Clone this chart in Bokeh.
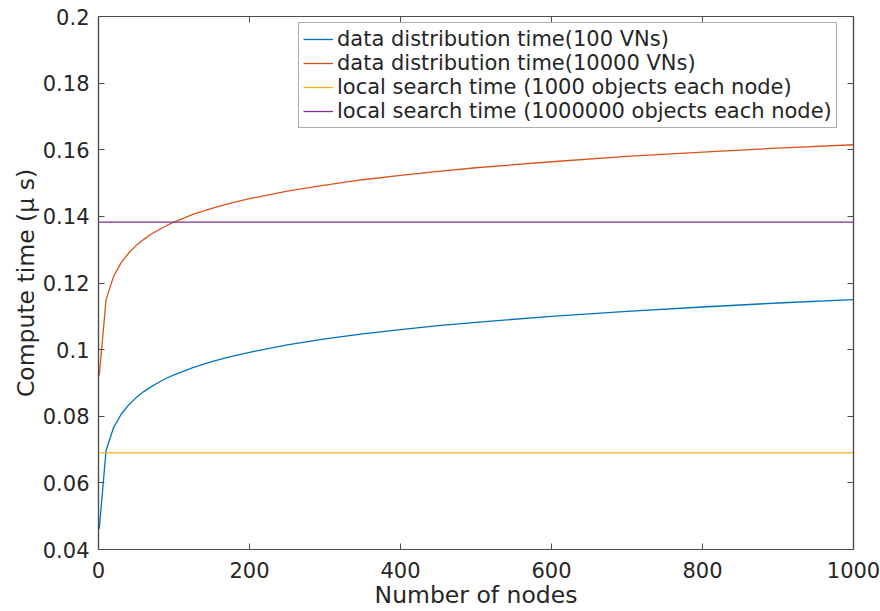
from bokeh.plotting import figure
from bokeh.models import (LinearAxis, FixedTicker, CustomJSTickFormatter, Legend, LegendItem, Range1d)
from bokeh.embed import file_html
from bokeh.resources import INLINE

nodes = [1, 10, 20, 30, 40, 50, 60, 70, 80, 90, 100, 125, 150, 175, 200, 250, 300,
         350, 400, 450, 500, 600, 700, 800, 900, 1000]
dist_100vn = [0.0462, 0.0697, 0.0766, 0.0806, 0.0834, 0.0856, 0.0874, 0.0889, 0.0902,
              0.0914, 0.0924, 0.0946, 0.0964, 0.0979, 0.0992, 0.1014, 0.1032, 0.1047,
              0.1060, 0.1072, 0.1082, 0.1100, 0.1115, 0.1128, 0.1140, 0.1150]
dist_10000vn = [0.0922, 0.1150, 0.1220, 0.1261, 0.1290, 0.1313, 0.1331, 0.1347, 0.1360,
                0.1372, 0.1383, 0.1406, 0.1424, 0.1440, 0.1453, 0.1476, 0.1494, 0.1510,
                0.1523, 0.1535, 0.1546, 0.1564, 0.1580, 0.1593, 0.1605, 0.1615]
search_nodes = [1, 1000]
search_1000 = [0.069, 0.069]
search_1000000 = [0.1383, 0.1383]

x_ticks = [0, 200, 400, 600, 800, 1000]
y_ticks = [0.04, 0.06, 0.08, 0.10, 0.12, 0.14, 0.16, 0.18, 0.20]

labels = ["data distribution time(100 VNs)",
          "data distribution time(10000 VNs)",
          "local search time (1000 objects each node)",
          "local search time (1000000 objects each node)"]
colors = ["#0072BD", "#D95319", "#EDB120", "#7E2F8E"]

FONT = "DejaVu Sans"
AX = "#4d4d4d"
TXT = "#262626"

p = figure(width=880, height=611, output_backend="svg", toolbar_location=None,
           x_range=Range1d(0, 1000), y_range=Range1d(0.04, 0.2),
           min_border_left=98, min_border_right=27, min_border_top=16, min_border_bottom=60)
p.grid.visible = False
p.outline_line_color = AX
p.outline_line_width = 1.2
p.background_fill_color = "white"

r1 = p.line(nodes, dist_100vn, line_color=colors[0], line_width=1.3)
r2 = p.line(nodes, dist_10000vn, line_color=colors[1], line_width=1.3)
r3 = p.line(search_nodes, search_1000, line_color=colors[2], line_width=1.3)
r4 = p.line(search_nodes, search_1000000, line_color=colors[3], line_width=1.3)

fmt = CustomJSTickFormatter(code="return String(parseFloat(tick.toFixed(4)));")
blank = CustomJSTickFormatter(code="return '';")

def style(ax):
    ax.axis_line_color = AX
    ax.axis_line_width = 1.2
    ax.major_tick_line_color = AX
    ax.major_tick_in = 6
    ax.major_tick_out = 0
    ax.minor_tick_line_color = None
    ax.major_label_text_font = FONT
    ax.major_label_text_color = TXT
    ax.major_label_text_font_size = "21px"
    ax.axis_label_text_font = FONT
    ax.axis_label_text_color = TXT
    ax.axis_label_text_font_style = "normal"

xa = p.xaxis[0]
xa.ticker = FixedTicker(ticks=x_ticks)
style(xa)
xa.major_label_standoff = 12
xa.axis_label = "Number of nodes"
xa.axis_label_text_font_size = "23.5px"
xa.axis_label_standoff = 0

ya = p.yaxis[0]
ya.ticker = FixedTicker(ticks=y_ticks)
ya.formatter = fmt
style(ya)
ya.major_label_standoff = 9
ya.axis_label = "Compute time (μ s)"
ya.axis_label_text_font_size = "23.5px"
ya.axis_label_standoff = 0

top = LinearAxis(ticker=FixedTicker(ticks=x_ticks), formatter=blank)
style(top)
top.major_label_standoff = 0
p.add_layout(top, "above")
right = LinearAxis(ticker=FixedTicker(ticks=y_ticks), formatter=blank)
style(right)
right.major_label_standoff = 0
p.add_layout(right, "right")

legend = Legend(items=[LegendItem(label=labels[i], renderers=[r]) for i, r in enumerate([r1, r2, r3, r4])],
                location=(200, 421))
legend.label_text_font = FONT
legend.label_text_font_size = "21px"
legend.label_text_color = TXT
legend.glyph_width = 30
legend.glyph_height = 20
legend.label_height = 20
legend.label_standoff = 4
legend.spacing = 0
legend.padding = 4
legend.margin = 0
legend.border_line_color = "#5a5a5a"
legend.border_line_width = 1
legend.background_fill_color = "white"
legend.background_fill_alpha = 1
p.add_layout(legend, "center")

open("out.html", "w").write(file_html(p, INLINE))
